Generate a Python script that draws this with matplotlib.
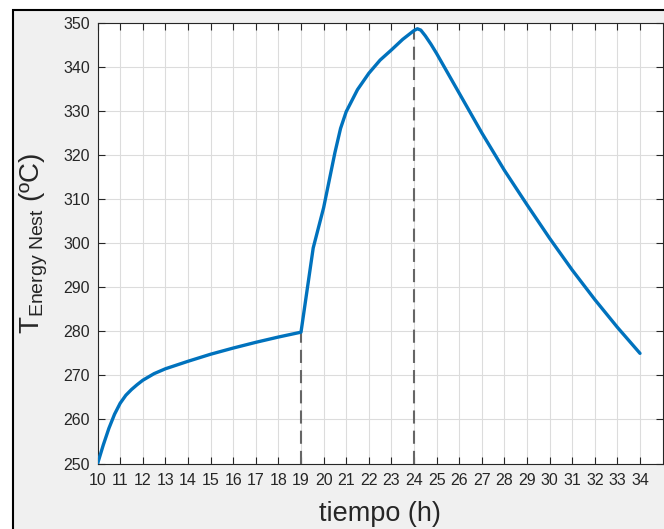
import matplotlib
matplotlib.use('Agg')
import matplotlib.pyplot as plt
from matplotlib.patches import Rectangle
import numpy as np

plt.rcParams['font.family'] = ['Liberation Sans', 'DejaVu Sans']
plt.rcParams['mathtext.fontset'] = 'custom'
plt.rcParams['mathtext.rm'] = 'Liberation Sans'
plt.rcParams['mathtext.it'] = 'Liberation Sans'

# temperature of the energy nest vs time
tiempo = [10, 10.25, 10.5, 10.75, 11, 11.25, 11.5, 11.75, 12, 12.5, 13, 14, 15, 16,
          17, 18, 19, 19.54, 20, 20.5, 20.75, 21, 21.5, 22, 22.5, 23, 23.5, 23.8,
          24, 24.15, 24.3, 24.5, 24.75, 25, 26, 27, 28, 29, 30, 31, 32, 33, 34]
temp = [250, 254.2, 258.0, 261.2, 263.7, 265.5, 266.8, 267.9, 268.9, 270.4, 271.5,
        273.2, 274.8, 276.2, 277.5, 278.7, 279.8, 298.9, 308, 320.5, 326.0, 329.8,
        334.8, 338.5, 341.5, 343.8, 346.2, 347.4, 348.2, 348.6, 348.3, 347.0,
        345.1, 343.0, 334.0, 325.0, 316.5, 308.7, 301.1, 293.9, 287.2, 280.9, 275.0]
cortes = [19, 24]

xticks = list(range(10, 35))
yticks = list(range(250, 351, 10))

fig = plt.figure(figsize=(6.64, 5.29), dpi=100)
fig.patch.set_facecolor('white')
fig.patches.append(Rectangle((13 / 664, -0.1), 1.2, 0.1 + 519 / 529,
                             transform=fig.transFigure, facecolor='#f0f0f0',
                             edgecolor='black', lw=1.5, zorder=-10))

ax = fig.add_axes([97.6 / 664, 65.4 / 529, 565 / 664, 441 / 529])
ax.set_facecolor('white')

for c in cortes:
    ax.plot([c, c], [yticks[0], np.interp(c, tiempo, temp)], color='#666666',
            lw=1.5, dashes=(6.3, 3.4), zorder=2)
ax.plot(tiempo, temp, color='#0072BD', lw=2.4, zorder=3,
        solid_capstyle='round', solid_joinstyle='round')

ax.set_xlim(10, 35)
ax.set_ylim(250, 350)
ax.set_xticks(xticks)
ax.set_yticks(yticks)
ax.grid(True, color='#dcdcdc', lw=0.8)
ax.set_axisbelow(True)

for s in ax.spines.values():
    s.set_color('#262626')
    s.set_linewidth(0.8)
ax.tick_params(direction='in', top=True, right=True, length=5, width=0.8,
               color='#262626', labelcolor='#262626', labelsize=11.5)
ax.tick_params(axis='x', pad=7)
ax.tick_params(axis='y', pad=5.5)

ax.set_xlabel('tiempo (h)', fontsize=19.5, color='#262626')
ax.set_ylabel(r'$\mathrm{T_{Energy\ Nest}}$ (ºC)', fontsize=20, color='#262626')
ax.xaxis.set_label_coords(0.5, -0.085)
ax.yaxis.set_label_coords(-0.085, 0.5)

fig.savefig('out.png', dpi=100)
